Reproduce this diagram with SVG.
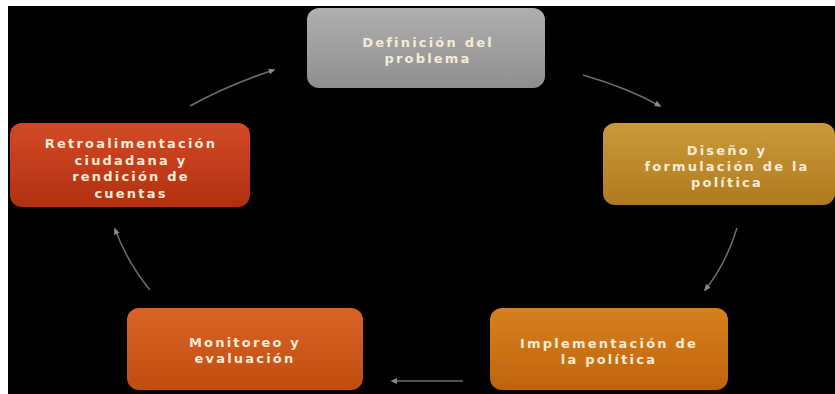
<svg xmlns="http://www.w3.org/2000/svg" width="835" height="394" viewBox="0 0 835 394">
<defs>
<linearGradient id="gGray" x1="0" y1="0" x2="0" y2="1"><stop offset="0" stop-color="#b0b0b0"/><stop offset="1" stop-color="#8e8e8e"/></linearGradient>
<linearGradient id="gGold" x1="0" y1="0" x2="0" y2="1"><stop offset="0" stop-color="#c99a3a"/><stop offset="1" stop-color="#b07a1e"/></linearGradient>
<linearGradient id="gOrange" x1="0" y1="0" x2="0" y2="1"><stop offset="0" stop-color="#d88020"/><stop offset="1" stop-color="#c0640c"/></linearGradient>
<linearGradient id="gOrRed" x1="0" y1="0" x2="0" y2="1"><stop offset="0" stop-color="#da6428"/><stop offset="1" stop-color="#c04c10"/></linearGradient>
<linearGradient id="gRed" x1="0" y1="0" x2="0" y2="1"><stop offset="0" stop-color="#d44a28"/><stop offset="1" stop-color="#b0300e"/></linearGradient>
<marker id="arr" viewBox="0 0 10 10" refX="7" refY="5" markerWidth="5" markerHeight="5" orient="auto"><path d="M0,1 L9,5 L0,9 z" fill="#8a8a8a"/></marker>
<style>
.box{stroke:none}
.t{font-family:"DejaVu Sans","Open Sans",sans-serif;font-size:13px;font-weight:bold;fill:#f6ecd6;text-anchor:middle;letter-spacing:2.2px}
.c{fill:none;stroke:#6e6e6e;stroke-width:1.5;marker-end:url(#arr)}
</style>
</defs>
<rect x="0" y="0" width="835" height="394" fill="#ffffff"/>
<rect x="8" y="6" width="827" height="388" fill="#000000"/>
<g id="connectors">
<path class="c" d="M583,75 Q628,88 660,106"/>
<path class="c" d="M737,228 Q726,264 705,290"/>
<path class="c" d="M463,381 L392,381"/>
<path class="c" d="M150,290 Q127,262 115,229"/>
<path class="c" d="M190,106 Q230,84 274,70"/>
</g>
<g id="n1">
<rect class="box" x="307" y="8" width="238" height="80" rx="12" fill="url(#gGray)"/>
<text class="t" x="428" y="47">Definición del</text>
<text class="t" x="428" y="63">problema</text>
</g>
<g id="n2">
<rect class="box" x="603" y="123" width="232" height="82" rx="12" fill="url(#gGold)"/>
<text class="t" x="727" y="155">Diseño y</text>
<text class="t" x="727" y="171">formulación de la</text>
<text class="t" x="727" y="187">política</text>
</g>
<g id="n3">
<rect class="box" x="490" y="308" width="238" height="82" rx="12" fill="url(#gOrange)"/>
<text class="t" x="609" y="348">Implementación de</text>
<text class="t" x="609" y="364">la política</text>
</g>
<g id="n4">
<rect class="box" x="127" y="308" width="236" height="82" rx="12" fill="url(#gOrRed)"/>
<text class="t" x="245" y="347">Monitoreo y</text>
<text class="t" x="245" y="363">evaluación</text>
</g>
<g id="n5">
<rect class="box" x="10" y="123" width="240" height="84" rx="12" fill="url(#gRed)"/>
<text class="t" x="131" y="148">Retroalimentación</text>
<text class="t" x="131" y="164.5">ciudadana y</text>
<text class="t" x="131" y="181">rendición de</text>
<text class="t" x="131" y="197.5">cuentas</text>
</g>
</svg>
